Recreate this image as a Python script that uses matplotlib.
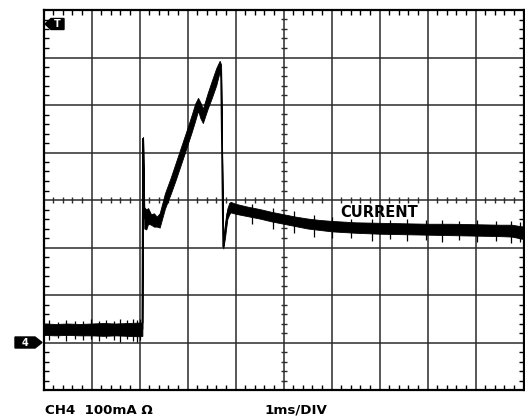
import matplotlib
matplotlib.use('Agg')
import matplotlib.pyplot as plt
from matplotlib.patches import Polygon
from matplotlib.ticker import MultipleLocator

# scope trace, time in divisions (1ms/div), level in divisions from centre
t = [0.00, 0.25, 0.50, 0.75, 1.00, 1.25, 1.50, 1.75, 2.00, 2.06,
     2.075, 2.10, 2.14, 2.18, 2.24, 2.30, 2.36,
     2.42, 2.53, 2.65, 2.76, 2.87, 2.97, 3.09, 3.16, 3.22, 3.27, 3.32,
     3.42, 3.51, 3.60, 3.67, 3.70, 3.745, 3.78, 3.83, 3.87,
     3.90, 4.00, 4.25, 4.50, 4.75, 5.00, 5.25, 5.50, 5.75, 6.00,
     6.50, 7.00, 7.50, 8.00, 8.50, 9.00, 9.50, 9.75, 10.0]
hi = [-2.60, -2.61, -2.60, -2.61, -2.60, -2.59, -2.60, -2.59, -2.58, -2.58,
      1.33, -0.15, -0.20, -0.17, -0.30, -0.28, -0.35,
      -0.28, 0.14, 0.47, 0.80, 1.13, 1.43, 1.80, 2.03, 2.15, 2.05, 1.92,
      2.25, 2.52, 2.78, 2.93, 2.85, -0.95, -0.55, -0.18, -0.06,
      -0.04, -0.08, -0.14, -0.19, -0.25, -0.30, -0.35, -0.39, -0.42, -0.44,
      -0.47, -0.48, -0.49, -0.50, -0.50, -0.51, -0.52, -0.52, -0.56]
lo = [-2.84, -2.85, -2.84, -2.85, -2.85, -2.86, -2.85, -2.86, -2.87, -2.86,
      1.25, -0.60, -0.62, -0.50, -0.52, -0.56, -0.56,
      -0.58, -0.18, 0.13, 0.44, 0.77, 1.07, 1.44, 1.67, 1.88, 1.72, 1.62,
      1.92, 2.16, 2.42, 2.70, 2.55, -1.02, -0.80, -0.40, -0.30,
      -0.26, -0.29, -0.34, -0.39, -0.45, -0.50, -0.55, -0.60, -0.63, -0.66,
      -0.69, -0.71, -0.72, -0.73, -0.74, -0.75, -0.76, -0.77, -0.82]

# noise spikes poking out of the band
spike_t = [0.12, 0.31, 0.47, 0.66, 0.83, 0.98, 1.16, 1.31, 1.46, 1.60, 1.74, 1.86, 1.95, 2.02,
           4.35, 4.78, 5.22, 5.63, 6.02, 6.41, 6.84, 7.22, 7.58, 7.96, 8.31, 8.66, 9.04, 9.42, 9.73, 9.93]
spike_lo = [-2.94, -2.91, -2.96, -2.92, -2.95, -2.93, -2.97, -2.91, -2.95, -2.98, -2.93, -2.96, -2.99, -2.94,
            -0.50, -0.60, -0.70, -0.77, -0.81, -0.80, -0.86, -0.83, -0.87, -0.84, -0.88, -0.85, -0.89, -0.86, -0.90, -0.88]
spike_hi = [-2.53, -2.56, -2.52, -2.55, -2.54, -2.51, -2.55, -2.52, -2.54, -2.50, -2.53, -2.51, -2.52, -2.50,
            -0.08, -0.16, -0.24, -0.32, -0.36, -0.40, -0.41, -0.42, -0.40, -0.43, -0.42, -0.44, -0.43, -0.45, -0.44, -0.47]

W, H = 525, 418
fig = plt.figure(figsize=(W/100, H/100), dpi=100)
ax = fig.add_axes([43.5/W, 28/H, 480/W, 380/H])
ax.set_xlim(0, 10)
ax.set_ylim(-4, 4)

gc = '#2b2b2b'
for i in range(1, 10):
    ax.axvline(i, color=gc, lw=1.1, zorder=1)
for j in range(-3, 4):
    ax.axhline(j, color=gc, lw=1.1, zorder=1)

# small ticks along the centre lines
mx = [k*0.2 for k in range(51) if k % 5]
my = [-4 + k*0.2 for k in range(41) if k % 5]
ax.plot(mx, [0]*len(mx), ls='none', marker='|', ms=4, mew=1, color=gc, zorder=1)
ax.plot([5]*len(my), my, ls='none', marker='_', ms=4, mew=1, color=gc, zorder=1)

ax.xaxis.set_major_locator(MultipleLocator(1))
ax.yaxis.set_major_locator(MultipleLocator(1))
ax.xaxis.set_minor_locator(MultipleLocator(0.2))
ax.yaxis.set_minor_locator(MultipleLocator(0.2))
ax.tick_params(which='major', length=0, labelbottom=False, labelleft=False)
ax.tick_params(which='minor', direction='in', length=3.5, width=1, color='black',
               top=True, right=True)
for s in ax.spines.values():
    s.set_linewidth(1.6)
    s.set_color('black')

ax.fill_between(t, lo, hi, color='black', lw=0.6, zorder=3)
mid = [(a + b) / 2 for a, b in zip(hi, lo)]
ax.plot(t, mid, color='black', lw=1.3, zorder=3)
ax.vlines(spike_t, spike_lo, spike_hi, color='black', lw=0.9, zorder=3)

ax.text(6.18, -0.27, 'CURRENT', fontsize=10.5, fontweight='bold', va='center', ha='left', zorder=4)

fig.text(45/W, 1 - 410/H, 'CH4  100mA \u03a9', fontsize=9.6, fontweight='bold', va='center', ha='left')
fig.text(264/W, 1 - 410/H, '1ms/DIV', fontsize=9.6, fontweight='bold', va='center', ha='left')

def px(pts):
    return [(x/W, 1 - y/H) for x, y in pts]

fig.patches.append(Polygon(px([(15, 337), (35, 337), (42, 342.5), (35, 348), (15, 348)]),
                           closed=True, color='black', transform=fig.transFigure, figure=fig))
fig.text(25/W, 1 - 342.5/H, '4', color='white', fontsize=7, fontweight='bold', va='center', ha='center')
fig.patches.append(Polygon(px([(45, 24), (51, 18.5), (64, 18.5), (64, 29.5), (51, 29.5)]),
                           closed=True, color='black', transform=fig.transFigure, figure=fig))
fig.text(57.5/W, 1 - 24/H, 'T', color='white', fontsize=7, fontweight='bold', va='center', ha='center')

fig.savefig('out.png', dpi=100)
